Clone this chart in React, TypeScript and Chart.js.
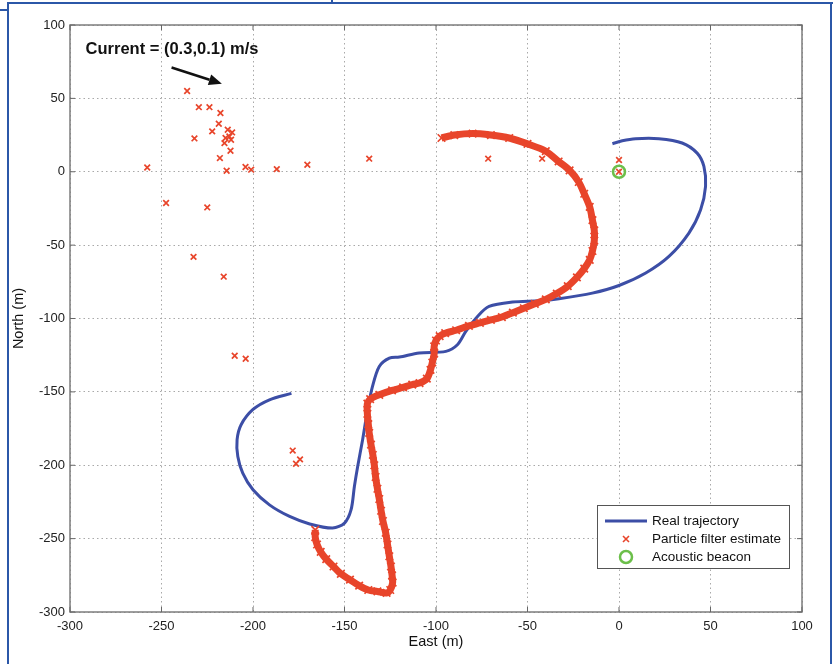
import { useEffect, useRef } from "react";
import { Chart, registerables } from "chart.js";

Chart.register(...registerables);

// ---- axes ----
const eastMin = -300;
const eastMax = 100;
const northMin = -300;
const northMax = 100;
const tickStep = 50;

// ---- Real trajectory ----
const realEast = [
  -179, -191, -200, -206.5, -208.7, -208.3, -205.6, -200, -191, -180, -169, -156.5, -150, -146.4, -144.6,
  -142.8, -140.1, -137.4, -134.7, -131, -125.5, -120, -109.2, -94.6, -88.3, -83.7, -77.3, -71, -58.2, -43.7,
  -32.8, -14.6, 0, 14.6, 27.3, 38.2, 44.6, 47.3, 46.4, 42.7, 34.5, 21.8, 9.1, 1.8, -3.6,
];
const realNorth = [
  -151, -155.4, -162, -172.4, -182.6, -194, -205.3, -216.7, -227, -234.9, -240, -242.8, -239.4, -230.3, -214.5,
  -200.8, -182.6, -162.2, -146.3, -132.7, -127, -126.3, -123.5, -122.4, -117.9, -108.8, -98.6, -91.8, -88.8, -87.9,
  -86.5, -82.7, -77.5, -69, -57.7, -41.8, -25.9, -10, 3.6, 12.7, 19.6, 22.5, 22.5, 21.1, 19.1,
];

// ---- Particle filter estimate: dense track ----
const pfEast = [
  -97, -90, -80, -70, -60, -50, -40, -33, -27, -22, -19, -16, -14.5, -13.5, -13.5, -14.5, -16, -19, -23, -28,
  -34, -40, -46, -52, -58, -64, -70, -76, -82, -89, -95, -98, -100, -101, -101, -102, -103, -105, -109, -113,
  -118, -124, -131, -136, -137.5, -137.5, -137, -136.5, -135.5, -134.5, -133.7, -133, -132, -131, -130, -129,
  -127.5, -126.5, -125.5, -124.6, -124, -123.7, -125, -127, -132, -137, -142, -147, -152, -156, -160, -163,
  -165, -166, -166,
];
const pfNorth = [
  23, 25, 26, 25, 23, 19, 14, 7, 1, -7, -15, -24, -33, -40, -47, -54, -60, -66, -72, -78,
  -83, -87, -90, -93, -96, -99, -101, -103, -105, -108, -110, -112, -115, -119, -124, -130, -135, -141, -144, -145,
  -147, -149, -152, -155, -158, -165, -172, -178, -186, -193, -200, -208, -216, -223, -231, -238,
  -246, -254, -262, -269, -275, -280, -285, -287, -286, -285, -282, -278, -274, -269, -264, -259,
  -254, -249, -244,
];

// ---- Particle filter estimate: scattered estimates ----
const pfOutEast = [
  -236, -229.6, -223.8, -217.8, -218.7, -222.3, -232, -213.8, -211.4, -212.9, -215, -212, -215.6, -212.3, -218.1,
  -257.8, -214.4, -204.1, -201, -187, -247.5, -225, -170.3, -136.5, -71.5, -42, -232.5, -216, -210, -204,
  -178.3, -174.3, -176.5, 0, 0,
];
const pfOutNorth = [
  55, 44, 44, 40, 32.7, 27.5, 22.7, 28.6, 26.8, 24, 23, 21.8, 19.5, 14.3, 9.3,
  2.9, 0.7, 3.2, 1.4, 1.8, -21.3, -24.3, 4.8, 8.9, 8.9, 8.9, -58, -71.5, -125.4, -127.4,
  -190, -196, -199, 8, 0,
];

// ---- Acoustic beacon ----
const beaconEast = [0];
const beaconNorth = [0];

// ---- labels ----
const seriesNames = ["Real trajectory", "Particle filter estimate", "Acoustic beacon"];
const xTitle = "East (m)";
const yTitle = "North (m)";
const annotationText = "Current = (0.3,0.1) m/s";
const annotationAt = [-291.5, 83]; // data units
const arrowFrom = [-244.5, 71];
const arrowTo = [-217, 60];

const BLUE = "#3c4ea6";
const RED = "#e8452b";
const GREEN = "#6cbf4a";
const FONT = "'Liberation Sans', Arial, Helvetica, sans-serif";

const toPts = (xs: number[], ys: number[]) => xs.map((x, i) => ({ x, y: ys[i] }));

const framePlugin = {
  id: "matlabFrame",
  afterDatasetsDraw(chart: any) {
    const { ctx, chartArea: a, scales } = chart;
    const xs = scales.x;
    const ys = scales.y;
    ctx.save();
    // box
    ctx.strokeStyle = "#7d7d7d";
    ctx.lineWidth = 1.5;
    ctx.strokeRect(a.left, a.top, a.right - a.left, a.bottom - a.top);
    // inward ticks
    ctx.lineWidth = 1;
    ctx.strokeStyle = "#666";
    ctx.beginPath();
    xs.ticks.forEach((t: any) => {
      const px = xs.getPixelForValue(t.value);
      ctx.moveTo(px, a.bottom);
      ctx.lineTo(px, a.bottom - 5);
      ctx.moveTo(px, a.top);
      ctx.lineTo(px, a.top + 5);
    });
    ys.ticks.forEach((t: any) => {
      const py = ys.getPixelForValue(t.value);
      ctx.moveTo(a.left, py);
      ctx.lineTo(a.left + 5, py);
      ctx.moveTo(a.right, py);
      ctx.lineTo(a.right - 5, py);
    });
    ctx.stroke();

    // annotation
    ctx.fillStyle = "#111";
    ctx.font = `bold 16.5px ${FONT}`;
    ctx.textBaseline = "middle";
    ctx.textAlign = "left";
    ctx.fillText(annotationText, xs.getPixelForValue(annotationAt[0]), ys.getPixelForValue(annotationAt[1]));
    const x0 = xs.getPixelForValue(arrowFrom[0]);
    const y0 = ys.getPixelForValue(arrowFrom[1]);
    const x1 = xs.getPixelForValue(arrowTo[0]);
    const y1 = ys.getPixelForValue(arrowTo[1]);
    const ang = Math.atan2(y1 - y0, x1 - x0);
    const headLen = 13;
    const headW = 5.5;
    const bx = x1 - headLen * Math.cos(ang);
    const by = y1 - headLen * Math.sin(ang);
    ctx.strokeStyle = "#111";
    ctx.lineWidth = 2.5;
    ctx.beginPath();
    ctx.moveTo(x0, y0);
    ctx.lineTo(bx, by);
    ctx.stroke();
    ctx.beginPath();
    ctx.moveTo(x1, y1);
    ctx.lineTo(bx + headW * Math.sin(ang), by - headW * Math.cos(ang));
    ctx.lineTo(bx - headW * Math.sin(ang), by + headW * Math.cos(ang));
    ctx.closePath();
    ctx.fill();

    // legend
    const lw = 192;
    const lh = 63;
    const lx = a.right - 13 - lw;
    const ly = a.bottom - 44 - lh;
    ctx.fillStyle = "#fff";
    ctx.fillRect(lx, ly, lw, lh);
    ctx.strokeStyle = "#555";
    ctx.lineWidth = 1;
    ctx.strokeRect(lx + 0.5, ly + 0.5, lw, lh);
    const sx = lx + 29;
    const rows = [ly + 16, ly + 34, ly + 52];
    ctx.strokeStyle = BLUE;
    ctx.lineWidth = 3;
    ctx.beginPath();
    ctx.moveTo(lx + 8, rows[0]);
    ctx.lineTo(lx + 50, rows[0]);
    ctx.stroke();
    ctx.strokeStyle = RED;
    ctx.lineWidth = 1.6;
    const r = 3;
    ctx.beginPath();
    ctx.moveTo(sx - r, rows[1] - r);
    ctx.lineTo(sx + r, rows[1] + r);
    ctx.moveTo(sx + r, rows[1] - r);
    ctx.lineTo(sx - r, rows[1] + r);
    ctx.stroke();
    ctx.strokeStyle = GREEN;
    ctx.lineWidth = 2.5;
    ctx.beginPath();
    ctx.arc(sx, rows[2], 6, 0, Math.PI * 2);
    ctx.stroke();
    ctx.fillStyle = "#111";
    ctx.font = `13.5px ${FONT}`;
    ctx.textAlign = "left";
    ctx.textBaseline = "middle";
    seriesNames.forEach((n, i) => ctx.fillText(n, lx + 55, rows[i]));
    ctx.restore();
  },
};

export default function App() {
  const ref = useRef<HTMLCanvasElement | null>(null);

  useEffect(() => {
    if (!ref.current) return;
    const grid = {
      color: "#a9a9a9",
      lineWidth: 1,
      drawTicks: false,
    };
    const border = { display: false, dash: [1.5, 3] };
    const chart = new Chart(ref.current, {
      type: "scatter",
      data: {
        datasets: [
          {
            label: seriesNames[2],
            data: toPts(beaconEast, beaconNorth),
            pointStyle: "circle",
            pointRadius: 6,
            borderColor: GREEN,
            backgroundColor: "rgba(0,0,0,0)",
            pointBorderWidth: 2.5,
            order: 0,
          },
          {
            label: seriesNames[1],
            data: toPts(pfOutEast, pfOutNorth),
            pointStyle: "crossRot",
            pointRadius: 4,
            borderColor: RED,
            backgroundColor: RED,
            pointBorderWidth: 1.7,
            order: 1,
          },
          {
            label: seriesNames[1] + " track",
            data: toPts(pfEast, pfNorth),
            showLine: true,
            tension: 0.3,
            borderColor: RED,
            borderWidth: 7,
            pointStyle: "crossRot",
            pointRadius: 5.3,
            pointBorderColor: RED,
            pointBorderWidth: 1.7,
            backgroundColor: RED,
            order: 2,
          },
          {
            label: seriesNames[0],
            data: toPts(realEast, realNorth),
            showLine: true,
            tension: 0.3,
            borderColor: BLUE,
            borderWidth: 3,
            pointRadius: 0,
            order: 3,
          },
        ],
      },
      options: {
        responsive: false,
        animation: false,
        events: [],
        layout: { padding: { top: 25, right: 35, left: 0, bottom: 0 } },
        plugins: {
          legend: { display: false },
          tooltip: { enabled: false },
        },
        scales: {
          x: {
            type: "linear",
            min: eastMin,
            max: eastMax,
            ticks: { stepSize: tickStep, padding: 7, color: "#222", font: { family: FONT, size: 13 } },
            grid: { ...grid },
            border: { ...border },
            title: {
              display: true,
              text: xTitle,
              color: "#111",
              font: { family: FONT, size: 14.5 },
              padding: { top: 0, bottom: 13 },
            },
            afterFit: (s: any) => {
              s.height = 52;
            },
          },
          y: {
            type: "linear",
            min: northMin,
            max: northMax,
            ticks: { stepSize: tickStep, padding: 5, color: "#222", font: { family: FONT, size: 13 } },
            grid: { ...grid },
            border: { ...border },
            title: {
              display: true,
              text: yTitle,
              color: "#111",
              font: { family: FONT, size: 14.5 },
              padding: { top: 10, bottom: 0 },
            },
            afterFit: (s: any) => {
              s.width = 70;
            },
          },
        },
      },
      plugins: [framePlugin],
    });
    return () => chart.destroy();
  }, []);

  const line = (s: any) => <div style={{ position: "absolute", background: "#2b57a8", ...s }} />;

  return (
    <div style={{ position: "absolute", left: 0, top: 0, width: 837, height: 664, background: "#fff", overflow: "hidden" }}>
      <canvas ref={ref} width={837} height={664} style={{ position: "absolute", left: 0, top: 0 }} />
      {line({ left: 8, top: 2, width: 825, height: 2 })}
      {line({ left: 7, top: 2, width: 2, height: 662 })}
      {line({ left: 830, top: 2, width: 2, height: 662 })}
      {line({ left: 0, top: 9, width: 8, height: 2 })}
      {line({ left: 331, top: 0, width: 2, height: 3 })}
    </div>
  );
}
